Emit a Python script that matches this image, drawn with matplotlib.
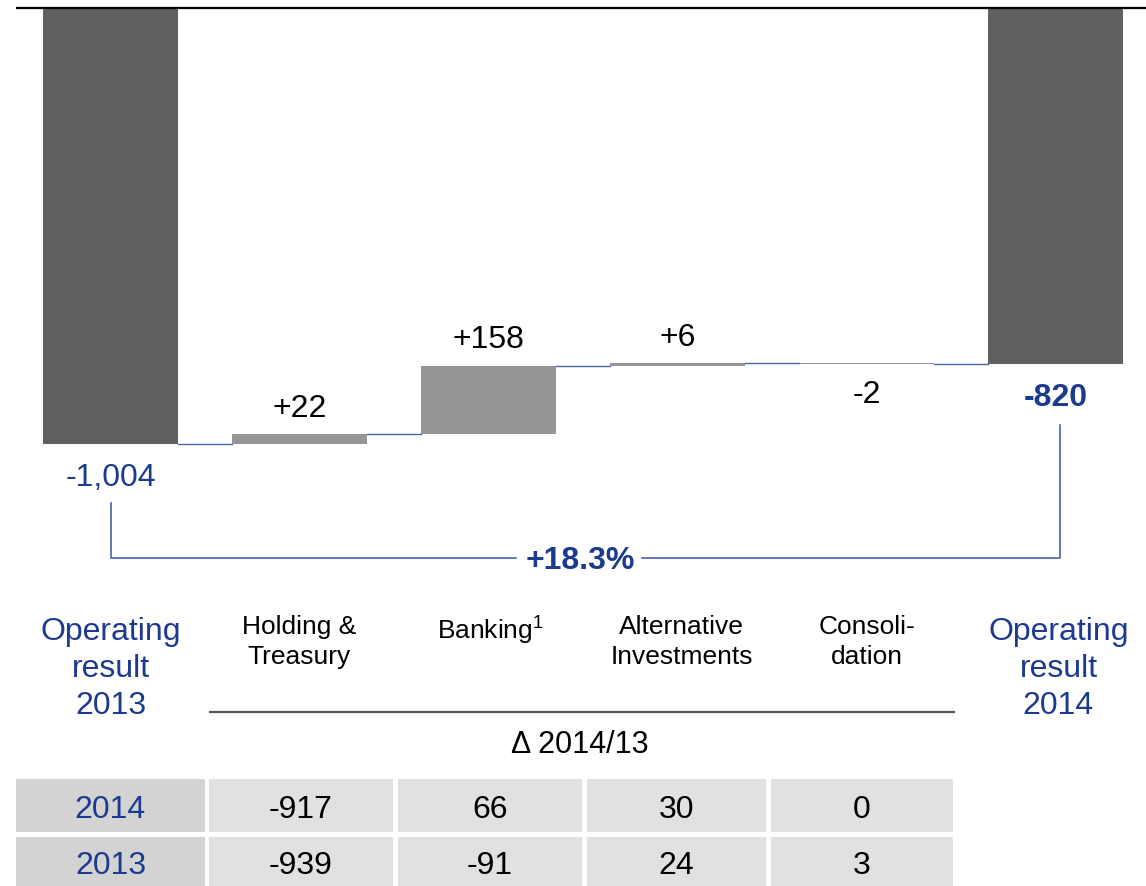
import matplotlib
matplotlib.use("Agg")
import matplotlib.pyplot as plt
from matplotlib.patches import Rectangle

plt.rcParams['font.family'] = ['Liberation Sans', 'DejaVu Sans']
plt.rcParams['mathtext.fontset'] = 'custom'
plt.rcParams['mathtext.rm'] = 'Liberation Sans'
plt.rcParams['mathtext.it'] = 'Liberation Sans:italic'
plt.rcParams['mathtext.bf'] = 'Liberation Sans:bold'

# ---------------- data ----------------
start_label = "Operating\nresult\n2013"
end_label = "Operating\nresult\n2014"
categories = ["Holding &\nTreasury", "Banking$^{\\mathrm{1}}$", "Alternative\nInvestments", "Consoli-\ndation"]
start_value = -1004
deltas = [22, 158, 6, -2]
end_value = -820
change_pct = "+18.3%"
delta_caption = "\u0394 2014/13"
table_years = ["2014", "2013"]
values_2014 = [-917, 66, 30, 0]
values_2013 = [-939, -91, 24, 3]

# ---------------- style ----------------
W, H = 1146, 887
NAVY = "#1c3a8e"
LINEBLUE = "#4a64aa"
DARK = "#606060"
LIGHT = "#969696"
CELL = "#e1e1e1"
CELL_HEAD = "#d3d3d3"
BIG = 23
MID = 19

fig = plt.figure(figsize=(W / 100, H / 100), dpi=100)

# main waterfall axes (data coordinates)
ax = fig.add_axes([0, 0, 1, 1])
step_px = 189.0
x0_px = 110.5
scale = 0.4348  # px per unit
zero_px = 8.5
ax.set_xlim(-x0_px / step_px, (W - x0_px) / step_px)
ax.set_ylim(-(H - zero_px) / scale, zero_px / scale)
ax.axis('off')

bw = 135 / step_px
n = len(deltas)

# start / end bars
ax.bar(0, start_value, width=bw, bottom=0, color=DARK, zorder=2)
ax.bar(n + 1, end_value, width=bw, bottom=0, color=DARK, zorder=2)

# delta bars
level = start_value
levels = [level]
for i, d in enumerate(deltas):
    ax.bar(i + 1, d, width=bw, bottom=level, color=LIGHT, zorder=2)
    level += d
    levels.append(level)

# connectors
for i in range(n + 1):
    ax.plot([i + bw / 2, i + 1 - bw / 2], [levels[i], levels[i]], color=LINEBLUE, lw=1.0, zorder=3)

# zero line on top
ax.plot([-x0_px / step_px + 16 / step_px, (W - x0_px) / step_px], [0, 0], color="black", lw=1.6, zorder=3,
        solid_capstyle='butt')

# value labels
ax.annotate(f"{start_value:,}", (0, start_value), xytext=(0, -24), textcoords='offset points',
            ha='center', va='center', fontsize=BIG, color=NAVY)
ax.annotate(f"{end_value:,}", (n + 1, end_value), xytext=(0, -23.5), textcoords='offset points',
            ha='center', va='center', fontsize=BIG, color=NAVY, fontweight='bold')
lvl = start_value
for i, d in enumerate(deltas):
    top = lvl + max(d, 0)
    bot = lvl + min(d, 0)
    if d >= 0:
        ax.annotate(f"{d:+d}", (i + 1, top), xytext=(0, 19), textcoords='offset points',
                    ha='center', va='center', fontsize=BIG, color='black')
    else:
        ax.annotate(f"{d:d}", (i + 1, bot), xytext=(0, -21.5), textcoords='offset points',
                    ha='center', va='center', fontsize=BIG, color='black')
    lvl += d

# overlay axes in pixel coordinates for bracket and table
ov = fig.add_axes([0, 0, 1, 1])
ov.set_xlim(0, W)
ov.set_ylim(H, 0)
ov.axis('off')

def cx(i):
    return x0_px + step_px * i

# bracket
ov.plot([cx(0), cx(0), 516], [504, 559, 559], color=LINEBLUE, lw=1.2)
ov.plot([642, cx(n + 1) + 4, cx(n + 1) + 4], [559, 559, 426], color=LINEBLUE, lw=1.2)
ov.text(580, 561, change_pct, ha='center', va='center', fontsize=BIG, color=NAVY, fontweight='bold')

# category labels
ov.text(cx(0), 617, start_label, ha='center', va='top', fontsize=BIG, color=NAVY, linespacing=1.3)
ov.text(cx(n + 1) + 3, 617, end_label, ha='center', va='top', fontsize=BIG, color=NAVY, linespacing=1.3)
for i, c in enumerate(categories):
    ov.text(cx(i + 1) + (2 if i == 1 else 0) + (4 if i == 2 else 0), 615, c, ha='center', va='top',
            fontsize=MID, color='black', linespacing=1.3)

# separator and caption
ov.plot([209, 955], [713, 713], color="#555555", lw=1.6, solid_capstyle='butt')
ov.text(580, 745, delta_caption, ha='center', va='center', fontsize=22, color='black')

# table
col_edges = [(16, 205), (209, 393), (398, 582), (587, 766), (771, 953)]
row_edges = [(780, 833), (838, 887)]
rows = [values_2014, values_2013]
for r, (y0, y1) in enumerate(row_edges):
    for c, (xa, xb) in enumerate(col_edges):
        ov.add_patch(Rectangle((xa, y0), xb - xa, y1 - y0, facecolor=CELL_HEAD if c == 0 else CELL,
                               edgecolor='none'))
        if c == 0:
            txt, col = table_years[r], NAVY
        else:
            txt, col = str(rows[r][c - 1]), 'black'
        ov.text((xa + xb) / 2, (y0 + y1) / 2 + 3.5, txt, ha='center', va='center', fontsize=BIG, color=col)

fig.savefig("out.png", dpi=100)
